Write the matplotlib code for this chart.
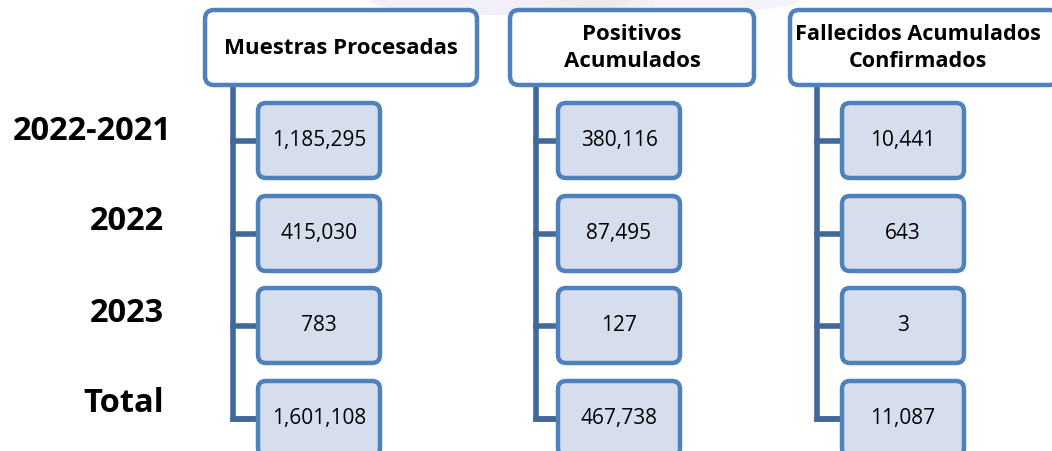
import matplotlib
matplotlib.use("Agg")
import matplotlib.pyplot as plt
from matplotlib.patches import FancyBboxPatch, Ellipse

# data
row_labels = ['2022-2021', '2022', '2023', 'Total']
headers = ['Muestras Procesadas', 'Positivos\nAcumulados', 'Fallecidos Acumulados\nConfirmados']
muestras = [1185295, 415030, 783, 1601108]
positivos = [380116, 87495, 127, 467738]
fallecidos = [10441, 643, 3, 11087]
columns = [muestras, positivos, fallecidos]

# layout (pixels)
W, H = 1052, 451
head_x = [(205, 477), (510, 754), (790, 1058)]
head_y = (10, 85)
stem_x = [233, 536, 817]
child_x = [258, 558, 842]
child_w = 122
child_h = 75
child_top = [103, 196, 288, 381]
label_y = [131, 222, 313, 404]
label_right = [172, 164, 164, 164]

border = '#4f81bd'
fill = '#d6dded'
stem = '#41679b'

plt.rcParams['font.family'] = ['Open Sans', 'DejaVu Sans']

fig = plt.figure(figsize=(W / 100, H / 100), dpi=100)
ax = fig.add_axes([0, 0, 1, 1])
ax.set_xlim(0, W)
ax.set_ylim(H, 0)
ax.axis('off')

# faint watermark at the top
for cx, cy, w, h, c in [(500, 0, 260, 30, '#d9d3f3'), (680, 0, 240, 26, '#e1dbf6'),
                         (600, 2, 110, 16, '#f1efd6')]:
    ax.add_patch(Ellipse((cx, cy), w, h, color=c, alpha=0.35, lw=0, zorder=0))

def rbox(x0, y0, x1, y1, fc, r):
    p = FancyBboxPatch((x0, y0), x1 - x0, y1 - y0,
                       boxstyle=f"round,pad=0,rounding_size={r}",
                       fc=fc, ec=border, lw=3.2, zorder=3)
    ax.add_patch(p)

for j, col in enumerate(columns):
    (hx0, hx1) = head_x[j]
    rbox(hx0, head_y[0], hx1, head_y[1], 'white', 9)
    ax.text((hx0 + hx1) / 2 if j < 2 else (hx0 + 1046) / 2, 48, headers[j],
            ha='center', va='center', fontsize=16 if j < 2 else 15.6,
            fontweight='bold', linespacing=1.35, zorder=4)

    sx = stem_x[j]
    centers = [t + child_h / 2 for t in child_top]
    ax.plot([sx, sx, child_x[j]], [head_y[1], centers[-1], centers[-1]],
            color=stem, lw=4, solid_joinstyle='miter', zorder=2)
    for i, v in enumerate(col):
        cy = centers[i]
        ax.plot([sx, child_x[j]], [cy, cy], color=stem, lw=4, zorder=2)
        rbox(child_x[j], child_top[i], child_x[j] + child_w, child_top[i] + child_h, fill, 8)
        ax.text(child_x[j] + child_w / 2, cy, f"{v:,}", ha='center', va='center',
                fontsize=15, zorder=4)

for i, lab in enumerate(row_labels):
    ax.text(label_right[i], label_y[i], lab, ha='right', va='center',
            fontsize=23.5, fontweight='bold', zorder=4)

fig.savefig('out.png', dpi=100)
